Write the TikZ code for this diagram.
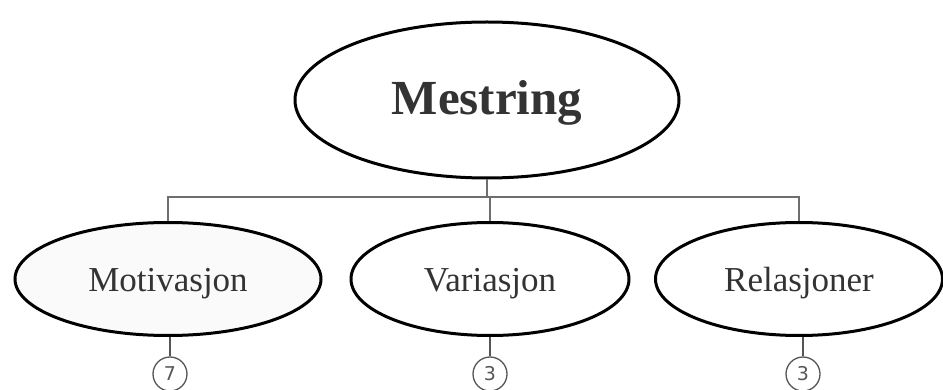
\documentclass[tikz,border=0pt]{standalone}
\usepackage{fontspec}
\setmainfont{Liberation Serif}
\newfontfamily\numfont{DejaVu Sans}[Scale=1]
\usetikzlibrary{shapes.geometric}
\definecolor{txt}{HTML}{333333}
\definecolor{conn}{HTML}{6E6E6E}
\definecolor{numc}{HTML}{555555}
\tikzset{
  ell/.style={ellipse, draw=black, line width=3pt, inner sep=0pt, text=txt},
  sub/.style={ell, minimum height=113pt, text height=26pt, text depth=0pt, font=\fontsize{35}{40}\selectfont},
  conline/.style={draw=conn, line width=2.6pt},
  numcirc/.style={circle, draw=numc, line width=1.3pt, minimum size=34pt, inner sep=0pt, text=numc, font=\numfont\fontsize{19}{22}\selectfont},
  numline/.style={draw=numc, line width=1.3pt}
}
\begin{document}
\begin{tikzpicture}[x=1pt,y=-1pt]
\useasboundingbox (0,0) rectangle (943,390);
\node[ell, minimum width=384pt, minimum height=156pt, text height=30pt, text depth=0pt, font=\fontsize{49}{56}\selectfont\bfseries] (top) at (487,100) {Mestring};
\node[sub, minimum width=306pt, fill=black!2] (mot) at (168,279) {Motivasjon};
\node[sub, minimum width=278pt] (var) at (490,279) {Variasjon};
\node[sub, minimum width=287pt] (rel) at (799,279) {Relasjoner};
\coordinate (j) at (487,197);
\draw[conline] (top.south) -- (j);
\draw[conline] (j) -| (mot.north);
\draw[conline] (j) -| (rel.north);
\draw[conline] (j) -| (var.north);
\node[numcirc] (n1) at (170,374) {7};
\node[numcirc] (n2) at (490,374) {3};
\node[numcirc] (n3) at (803,374) {3};
\draw[numline] (n1.north) -- (n1.north |- mot.south);
\draw[numline] (n2.north) -- (n2.north |- var.south);
\draw[numline] (n3.north) -- (n3.north |- rel.south);
\end{tikzpicture}
\end{document}
